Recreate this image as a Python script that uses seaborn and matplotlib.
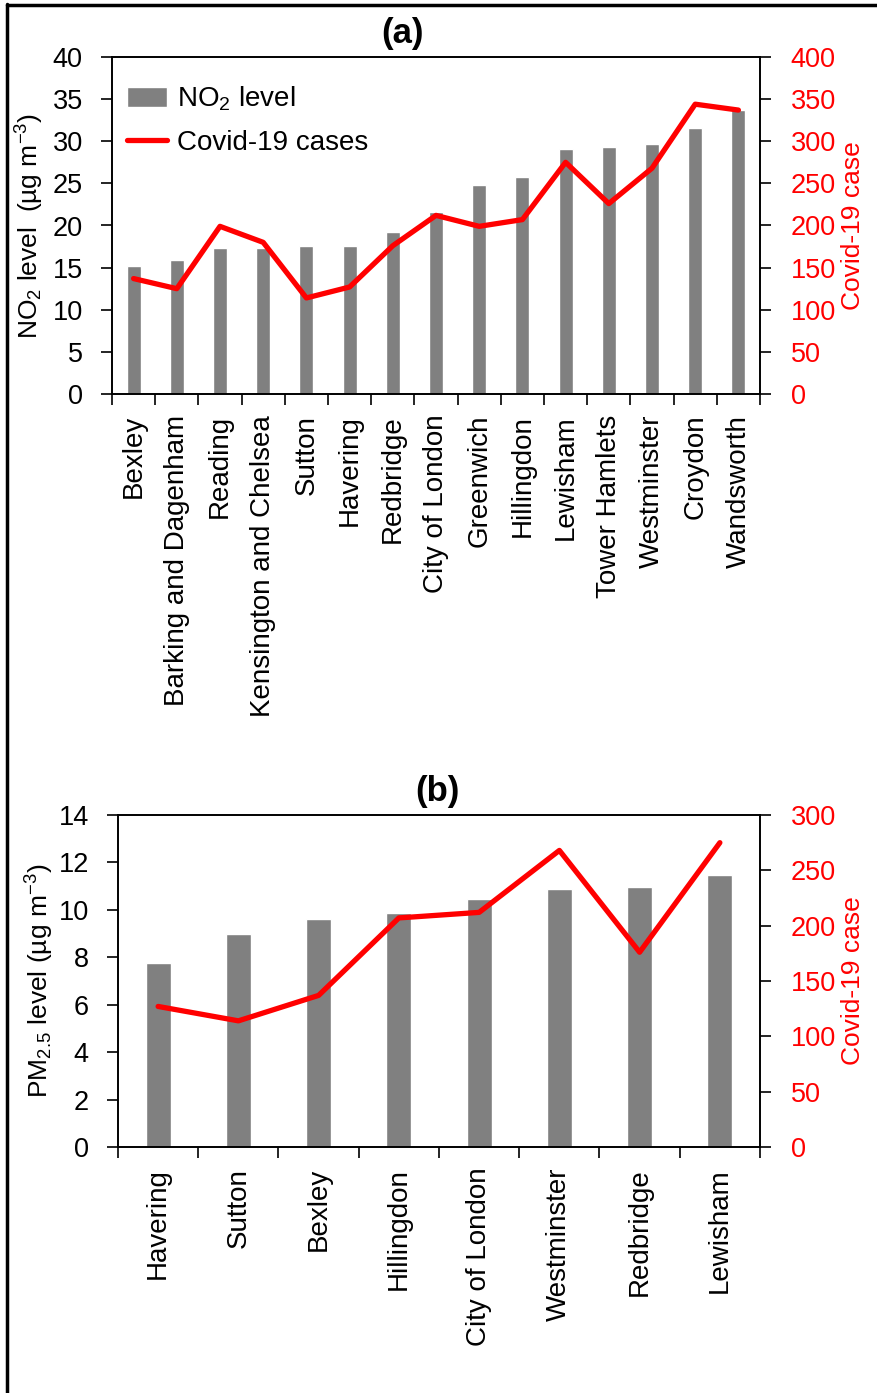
import numpy as np
import pandas as pd
import matplotlib
matplotlib.use("Agg")
import matplotlib.pyplot as plt
import seaborn as sns
from matplotlib.lines import Line2D
from matplotlib.ticker import FixedLocator, MultipleLocator

# ---------------- data ----------------
cats_a = ["Bexley", "Barking and Dagenham", "Reading", "Kensington and Chelsea",
          "Sutton", "Havering", "Redbridge", "City of London", "Greenwich",
          "Hillingdon", "Lewisham", "Tower Hamlets", "Westminster", "Croydon",
          "Wandsworth"]
no2_a = [15.2, 15.9, 17.3, 17.3, 17.6, 17.6, 19.2, 21.6, 24.8, 25.8, 29.1,
         29.3, 29.7, 31.6, 33.7]
covid_a = [137, 125, 199, 180, 114, 127, 176, 212, 199, 207, 275, 226, 268,
           344, 337]

cats_b = ["Havering", "Sutton", "Bexley", "Hillingdon", "City of London",
          "Westminster", "Redbridge", "Lewisham"]
pm25_b = [7.75, 9.0, 9.6, 9.85, 10.45, 10.9, 10.95, 11.45]
covid_b = [127, 114, 137, 207, 212, 268, 176, 275]

# ---------------- style ----------------
sns.set_theme(style="white", rc={"text.color": "black", "axes.labelcolor": "black",
                                 "xtick.color": "black", "ytick.color": "black"})
plt.rcParams["font.family"] = ["Liberation Sans", "DejaVu Sans"]
plt.rcParams["mathtext.default"] = "regular"

W, H = 878, 1393
fig = plt.figure(figsize=(W / 100, H / 100), dpi=100)
fig.patch.set_facecolor("white")

BAR = "#808080"
RED = "#ff0000"
FS_NUM = 19.5
FS_CAT = 20
FS_LAB = 19


def panel(rect, cats, vals, cases, ymax, ystep, cmax, cstep, ylabel, title,
          title_x=0.5, legend=False, barw=0.32, lab_l=-0.1, lab_r=1.125):
    ax = fig.add_axes(rect)
    df = pd.DataFrame({"cat": cats, "val": vals})
    sns.barplot(data=df, x="cat", y="val", color=BAR, width=barw, ax=ax,
                saturation=1, label="NO$_2$ level" if legend else None)
    if ax.get_legend() is not None:
        ax.get_legend().remove()
    n = len(cats)
    ax.set_xlim(-0.5, n - 0.5)
    ax.set_ylim(0, ymax)
    ax.yaxis.set_major_locator(MultipleLocator(ystep))
    ax.set_xticks(range(n))
    ax.set_xticklabels(cats, rotation=90, fontsize=FS_CAT, color="black")
    ax.xaxis.set_minor_locator(FixedLocator(np.arange(-0.5, n, 1.0)))
    ax.tick_params(axis="x", which="major", length=0, pad=15)
    ax.tick_params(axis="x", which="minor", length=8, width=1.2,
                   direction="out", color="black", bottom=True)
    ax.tick_params(axis="y", length=8, width=1.2, direction="out", pad=13,
                   labelsize=FS_NUM, color="black", left=True, labelcolor="black")
    ax.set_xlabel("")
    ax.set_ylabel(ylabel, fontsize=FS_LAB, color="black")
    ax.yaxis.set_label_coords(lab_l, 0.5)
    for s in ax.spines.values():
        s.set_color("black")
        s.set_linewidth(1.2)
    ax.set_title(title, fontsize=25, fontweight="bold", pad=10, color="black",
                 x=title_x)

    ax2 = ax.twinx()
    sns.lineplot(x=np.arange(n), y=cases, ax=ax2, color=RED, linewidth=3.8,
                 label="Covid-19 cases" if legend else None, legend=False)
    ax2.set_ylim(0, cmax)
    ax2.yaxis.set_major_locator(MultipleLocator(cstep))
    ax2.tick_params(axis="y", length=8, width=1.2, direction="out", pad=14,
                    labelsize=FS_NUM, color="black", labelcolor=RED, right=True)
    ax2.set_ylabel("Covid-19 case", fontsize=FS_LAB, color=RED)
    ax2.yaxis.set_label_coords(lab_r, 0.5)
    ax2.grid(False)
    ax.grid(False)
    for s in ax2.spines.values():
        s.set_color("black")
        s.set_linewidth(1.2)

    if legend:
        h1, l1 = ax.get_legend_handles_labels()
        h2, l2 = ax2.get_legend_handles_labels()
        ax2.legend(h1 + h2, l1 + l2, loc="upper left", frameon=False,
                   fontsize=20, handlelength=1.45, handleheight=0.7,
                   handletextpad=0.35, labelspacing=0.6, borderaxespad=0.3,
                   bbox_to_anchor=(-0.007, 0.975))
    return ax, ax2


panel([112 / W, 1 - 394 / H, (760 - 112) / W, (394 - 57) / H],
      cats_a, no2_a, covid_a, 40, 5, 400, 50,
      "NO$_2$ level  (µg m$^{-3}$)", "(a)", title_x=0.449, legend=True,
      barw=0.32, lab_l=(46 - 112) / 648, lab_r=(841 - 112) / 648)

panel([118 / W, 1 - 1147 / H, (760 - 118) / W, (1147 - 815) / H],
      cats_b, pm25_b, covid_b, 14, 2, 300, 50,
      "PM$_{2.5}$ level (µg m$^{-3}$)", "(b)", title_x=0.497, legend=False,
      barw=0.31, lab_l=(56 - 118) / 642, lab_r=(841 - 118) / 642)

# outer border (left and top edges)
fig.add_artist(Line2D([7 / W, 7 / W], [0, 1 - 4 / H], color="black",
                      linewidth=2.5, transform=fig.transFigure))
fig.add_artist(Line2D([7 / W, 1], [1 - 5 / H, 1 - 5 / H], color="black",
                      linewidth=2.5, transform=fig.transFigure))

fig.savefig("out.png", dpi=100, facecolor="white")
